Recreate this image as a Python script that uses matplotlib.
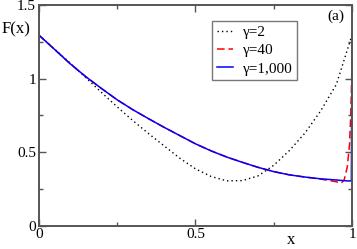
import matplotlib
matplotlib.use('Agg')
import matplotlib.pyplot as plt
from matplotlib.ticker import MultipleLocator

plt.rcParams['font.family'] = ['Liberation Serif', 'DejaVu Serif']

# values
x_g2 = [0.0, 0.05, 0.1, 0.15, 0.2, 0.25, 0.3, 0.35, 0.4, 0.45, 0.5, 0.55,
        0.6, 0.65, 0.7, 0.75, 0.8, 0.85, 0.9, 0.95, 1.0]
y_g2 = [1.295, 1.20, 1.105, 1.005, 0.905, 0.807, 0.714, 0.626, 0.542, 0.458, 0.386, 0.334,
        0.304, 0.306, 0.338, 0.41, 0.51, 0.63, 0.78, 0.96, 1.295]

x_g1000 = [0.0, 0.05, 0.1, 0.15, 0.2, 0.25, 0.3, 0.35, 0.4, 0.45, 0.5, 0.55,
           0.6, 0.65, 0.7, 0.75, 0.8, 0.85, 0.9, 0.95, 0.99, 0.998, 1.0]
y_g1000 = [1.295, 1.198, 1.100, 1.012, 0.932, 0.855, 0.788, 0.727, 0.668, 0.612, 0.556, 0.508,
           0.466, 0.430, 0.396, 0.367, 0.345, 0.330, 0.318, 0.310, 0.303, 0.305, 1.30]

x_g40 = [0.0, 0.05, 0.1, 0.15, 0.2, 0.25, 0.3, 0.35, 0.4, 0.45, 0.5, 0.55,
         0.6, 0.65, 0.7, 0.75, 0.8, 0.85, 0.9, 0.95, 0.965, 0.975, 0.985, 0.992,
         0.996, 0.999, 1.0]
y_g40 = [1.295, 1.198, 1.100, 1.012, 0.932, 0.855, 0.788, 0.727, 0.668, 0.612, 0.556, 0.508,
         0.466, 0.430, 0.396, 0.367, 0.345, 0.330, 0.316, 0.298, 0.288, 0.31, 0.40, 0.55,
         0.75, 1.0, 1.30]

labels = ['γ=2', 'γ=40', 'γ=1,000']

fig = plt.figure(figsize=(3.57, 2.49), dpi=100)
ax = fig.add_axes([0.109, 0.094, 0.877, 0.886])

ax.plot(x_g2, y_g2, color='black', linestyle=(0, (1, 2.2)), linewidth=1.0, label=labels[0])
ax.plot(x_g40, y_g40, color='#ff0000', linestyle=(0, (5, 2.5)), linewidth=1.1, label=labels[1])
ax.plot(x_g1000, y_g1000, color='#0000ff', linewidth=1.1, label=labels[2])

ax.set_xlim(0, 1)
ax.set_ylim(0, 1.5)
ax.xaxis.set_major_locator(MultipleLocator(0.5))
ax.xaxis.set_minor_locator(MultipleLocator(0.25))
ax.yaxis.set_major_locator(MultipleLocator(0.5))
ax.yaxis.set_minor_locator(MultipleLocator(0.25))
ax.xaxis.set_major_formatter(plt.FuncFormatter(lambda v, p: f'{v:g}'))
ax.yaxis.set_major_formatter(plt.FuncFormatter(lambda v, p: f'{v:g}'))

ax.tick_params(which='both', direction='in', top=True, right=True,
               color='#555555', labelsize=11, pad=2)
ax.tick_params(which='major', length=5, width=1)
ax.tick_params(which='minor', length=3, width=1)
for s in ax.spines.values():
    s.set_color('#555555')
    s.set_linewidth(1.4)

ax.text(-0.074, 1.333, 'F(x)', fontsize=12, ha='center', va='center', clip_on=False)
ax.text(0.805, -0.098, 'x', fontsize=12, ha='center', va='center', clip_on=False)
ax.text(0.95, 1.42, '(a)', fontsize=11, ha='center', va='center')

leg = ax.legend(loc='upper left', bbox_to_anchor=(0.553, 0.928), fontsize=11,
                frameon=True, fancybox=False, handlelength=1.1, handletextpad=0.6,
                borderpad=0.3, labelspacing=0.3, borderaxespad=0)
leg.get_frame().set_edgecolor('#555555')
leg.get_frame().set_linewidth(1.0)

fig.savefig('out.png', dpi=100)
